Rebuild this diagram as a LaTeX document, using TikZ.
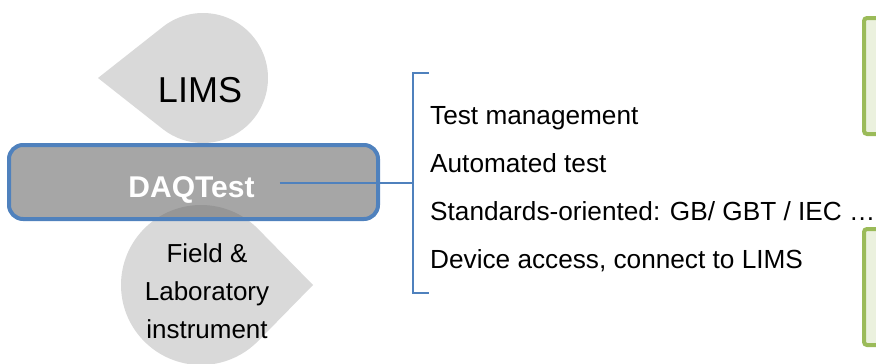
\documentclass[tikz,border=0pt]{standalone}
\usepackage{fontspec}
\setmainfont{Liberation Sans}
\usepackage{tikz}
\definecolor{dropgray}{HTML}{D9D9D9}
\definecolor{accentblue}{HTML}{4F81BD}
\definecolor{leafgreen}{HTML}{9BBB59}
\definecolor{leaffill}{HTML}{EBF1DE}
\tikzset{
  drop/.style={fill=dropgray},
  link/.style={accentblue, line width=1.5pt},
  item/.style={anchor=base west, inner sep=0pt, font=\fontsize{26.2}{30}\selectfont},
  greenbox/.style={draw=leafgreen, fill=leaffill, line width=4pt, rounded corners=3pt},
}

\begin{document}
\begin{tikzpicture}[x=1pt,y=-1pt]
    \useasboundingbox (0,0) rectangle (876,364);
    \clip (0,0) rectangle (876,364);
    % Teardrops
    \coordinate (limsc) at (203,78);
    \fill[drop] (98,78) -- ([shift={(128.25:65pt)}]limsc) arc[start angle=128.25, end angle=-128.25, radius=65pt] -- cycle;
    \coordinate (fieldc) at (201,285);
    \fill[drop] (313,285) -- ([shift={(44.4:80pt)}]fieldc) arc[start angle=44.4, end angle=315.6, radius=80pt] -- cycle;
    \node (lims) at (200,102) [anchor=base, inner sep=0pt, font=\fontsize{36}{43}\selectfont] {LIMS};
    \node (field) at (207,291.5) [align=center, inner sep=0pt, font=\fontsize{26}{38}\selectfont] {Field \&\\Laboratory\\instrument};
    % DAQTest bar
    \node (daq) at (193.5,182) [draw=accentblue, line width=4pt, rounded corners=14pt, fill=black!60, fill opacity=0.58, minimum width=369pt, minimum height=74pt, inner sep=0pt] {};
    \node (daqtext) at (191.5,197) [anchor=base, text=white, font=\bfseries\fontsize{30}{36}\selectfont, inner xsep=25pt] {DAQTest};
    % Bracket
    \coordinate (brk) at (413,183);
    \draw[link] (429,73) -- (413,73) -- (413,293) -- (429,293);
    \draw[link] (daqtext.east |- brk) -- (brk);
    % Items
    \node (mgmt) at (430,124) [item] {Test management};
    \node (auto) at (430,172.5) [item] {Automated test};
    \node (std) at (430,220.5) [item] {Standards-oriented: GB/ GBT / IEC …};
    \node (dev) at (430,268.5) [item] {Device access, connect to LIMS};
    % Side panels
    \draw[greenbox] (864,18) rectangle (900,134);
    \draw[greenbox] (864,229) rectangle (900,345);
\end{tikzpicture}
\end{document}
